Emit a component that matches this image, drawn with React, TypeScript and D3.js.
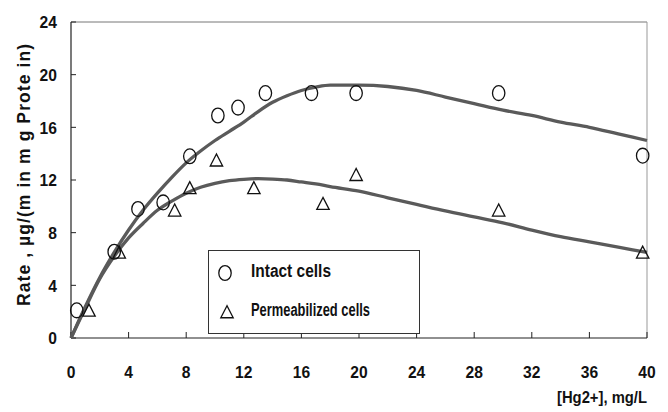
import React from "react";
import * as d3 from "d3";

const xTicks = [0, 4, 8, 12, 16, 20, 24, 28, 32, 36, 40];
const yTicks = [0, 4, 8, 12, 16, 20, 24];

const intactX = [0.4, 3.0, 4.65, 6.4, 8.25, 10.2, 11.6, 13.5, 16.7, 19.8, 29.7, 39.7];
const intactY = [2.1, 6.55, 9.8, 10.3, 13.8, 16.9, 17.5, 18.6, 18.6, 18.6, 18.6, 13.85];

const permX = [1.25, 3.35, 7.2, 8.25, 10.1, 12.7, 17.5, 19.8, 29.7, 39.7];
const permY = [2.1, 6.5, 9.7, 11.4, 13.5, 11.4, 10.2, 12.4, 9.7, 6.5];

const fitX = [0, 1, 2, 3, 4, 5, 6, 7, 8, 9, 10, 11, 12, 13, 14, 15, 16, 17, 18, 20, 22, 24, 26, 28, 30, 32, 34, 36, 38, 40];
const intactFitY = [0, 2.4, 4.6, 6.5, 8.2, 9.7, 11.0, 12.2, 13.3, 14.2, 15.0, 15.7, 16.4, 17.2, 17.9, 18.4, 18.8, 19.05, 19.2, 19.2, 19.1, 18.8, 18.3, 17.8, 17.3, 16.9, 16.4, 16.0, 15.5, 15.0];
const permFitY = [0, 2.3, 4.5, 6.2, 7.6, 8.7, 9.7, 10.4, 11.0, 11.45, 11.75, 11.95, 12.05, 12.1, 12.07, 12.0, 11.85, 11.7, 11.5, 11.15, 10.65, 10.15, 9.65, 9.2, 8.75, 8.2, 7.7, 7.3, 6.9, 6.5];

const legendLabels = ["Intact cells", "Permeabilized cells"];
const xTitle = "[Hg2+], mg/L";
const yTitle = "Rate , µg/(m in m g Prote in)";

const W = 668;
const H = 412;
const x = d3.scaleLinear().domain([0, 40]).range([71, 647]);
const y = d3.scaleLinear().domain([0, 24]).range([338, 22]);

const font = "'Liberation Sans', Arial, sans-serif";

function Circle({ cx, cy }: { cx: number; cy: number }) {
  return <ellipse cx={cx} cy={cy} rx={6.2} ry={7.4} fill="none" stroke="#111" strokeWidth={1.3} />;
}
function Tri({ cx, cy }: { cx: number; cy: number }) {
  const s = 6.2;
  const h = 11.5;
  const p = [
    [cx, cy - h / 2 - 0.5],
    [cx - s, cy + h / 2],
    [cx + s, cy + h / 2],
  ];
  return <path d={`M${p[0].join(",")}L${p[1].join(",")}L${p[2].join(",")}Z`} fill="none" stroke="#111" strokeWidth={1.3} />;
}

export default function App() {
  const line = d3
    .line<number>()
    .x((_, i) => x(fitX[i]))
    .curve(d3.curveMonotoneX);
  const intactPath = line.y((v) => y(v))(intactFitY) || "";
  const permPath = line.y((v) => y(v))(permFitY) || "";

  return (
    <svg width={W} height={H} style={{ position: "absolute", left: 0, top: 0, background: "#fff" }} fontFamily={font}>
      <rect x={0} y={0} width={W} height={H} fill="#fff" />
      {/* frame */}
      <line x1={x(0)} x2={x(40)} y1={y(24)} y2={y(24)} stroke="#777" strokeWidth={1} />
      <line x1={x(40)} x2={x(40)} y1={y(24)} y2={y(0)} stroke="#999" strokeWidth={1} />
      {/* axes */}
      <line x1={x(0)} x2={x(0)} y1={y(24)} y2={y(0)} stroke="#222" strokeWidth={1.2} />
      <line x1={x(0)} x2={x(40)} y1={y(0)} y2={y(0)} stroke="#222" strokeWidth={1.2} />
      {yTicks.map((t) => (
        <g key={"y" + t}>
          <line x1={x(0)} x2={x(0) + 5} y1={y(t)} y2={y(t)} stroke="#222" />
          <text
            transform={`translate(57,${y(t) + 6.3}) scale(0.92,1)`}
            textAnchor="end"
            fontSize={17}
            fontWeight="bold"
            fill="#111"
          >
            {t}
          </text>
        </g>
      ))}
      {xTicks.map((t) => (
        <g key={"x" + t}>
          <line x1={x(t)} x2={x(t)} y1={y(0)} y2={y(0) - 6} stroke="#222" />
          <text
            transform={`translate(${x(t)},377.5) scale(0.92,1)`}
            textAnchor="middle"
            fontSize={17}
            fontWeight="bold"
            fill="#111"
          >
            {t}
          </text>
        </g>
      ))}
      {/* curves */}
      <path d={intactPath} fill="none" stroke="#5a5a5a" strokeWidth={3.3} />
      <path d={permPath} fill="none" stroke="#5a5a5a" strokeWidth={3.3} />
      {/* points */}
      {intactX.map((v, i) => (
        <Circle key={"c" + i} cx={x(v)} cy={y(intactY[i])} />
      ))}
      {permX.map((v, i) => (
        <Tri key={"t" + i} cx={x(v)} cy={y(permY[i])} />
      ))}
      {/* legend */}
      <rect x={208.5} y={250.5} width={211} height={83} fill="#fff" stroke="#333" strokeWidth={1} />
      <Circle cx={225} cy={273} />
      <Tri cx={227} cy={312} />
      <text x={251} y={276.5} fontSize={18} fontWeight="bold" fill="#111" textLength={80} lengthAdjust="spacingAndGlyphs">
        {legendLabels[0]}
      </text>
      <text x={251} y={316} fontSize={18} fontWeight="bold" fill="#111" textLength={119} lengthAdjust="spacingAndGlyphs">
        {legendLabels[1]}
      </text>
      {/* titles */}
      <text x={647} y={403} textAnchor="end" fontSize={17} fontWeight="bold" fill="#111" textLength={90} lengthAdjust="spacingAndGlyphs">
        {xTitle}
      </text>
      <text
        transform={`translate(30,${(43 + 307) / 2}) rotate(-90)`}
        textAnchor="middle"
        fontSize={17.5}
        fontWeight="bold"
        fill="#111"
        textLength={262}
        lengthAdjust="spacing"
      >
        {yTitle}
      </text>
    </svg>
  );
}
